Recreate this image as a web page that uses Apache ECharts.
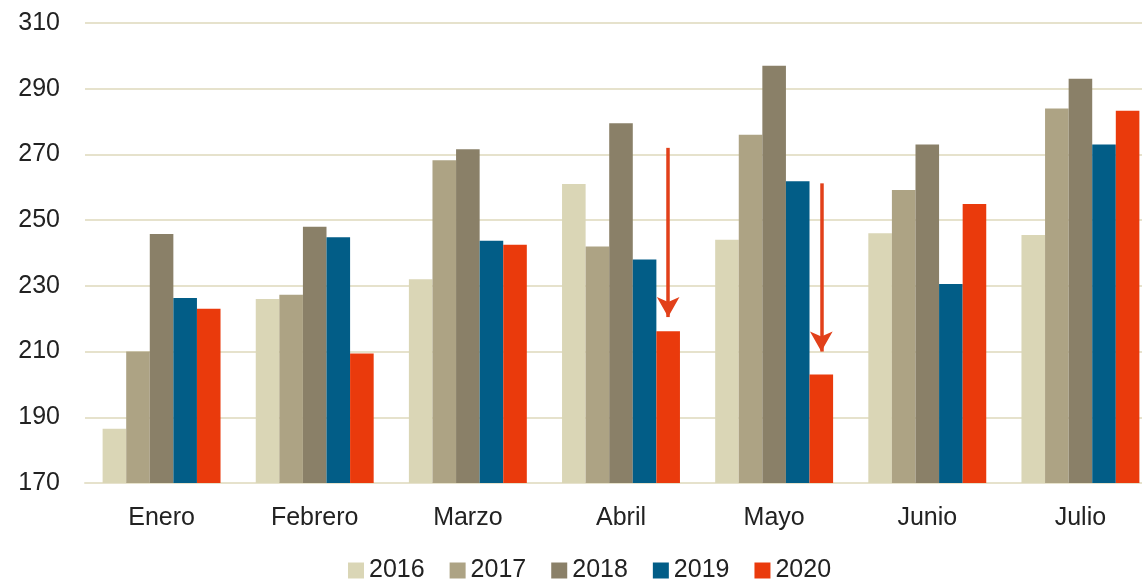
<!DOCTYPE html>
<html><head><meta charset="utf-8">
<script src="https://cdn.jsdelivr.net/npm/echarts@6/dist/echarts.min.js"></script>
<style>html,body{margin:0;padding:0;background:#fff}#c{width:1142px;height:588px}</style>
</head><body><div id="c"></div>
<script>
var categories = ['Enero','Febrero','Marzo','Abril','Mayo','Junio','Julio'];
var seriesNames = ['2016','2017','2018','2019','2020'];
var v2016 = [186.5, 226, 232, 261, 244, 246, 245.5];
var v2017 = [210, 227.3, 268.2, 242, 276, 259.2, 284];
var v2018 = [245.8, 248, 271.6, 279.5, 297, 273, 293];
var v2019 = [226.3, 244.8, 243.7, 238, 261.8, 230.6, 273];
var v2020 = [223, 209.4, 242.5, 216.2, 203, 254.9, 283.3];
var yTicks = [170, 190, 210, 230, 250, 270, 290, 310];
var arrowAbril = ['Abril', 272, 220.5];
var arrowMayo = ['Mayo', 261.2, 210];
var colors = ['#dad6b6','#ada384','#8a8068','#025d87','#ea3a0c'];
var values = [v2016, v2017, v2018, v2019, v2020];

var FONT = 'Liberation Sans, Arial, sans-serif';
var chart = echarts.init(document.getElementById('c'));
var series = seriesNames.map(function(n, i){
  var s = {
    name: n, type: 'bar', data: values[i],
    barGap: '0%', barCategoryGap: '23%',
    itemStyle: {color: colors[i]},
    emphasis: {disabled: true}
  };
  if (i === 4) {
    s.markLine = {
      silent: true,
      symbol: ['none', 'arrow'],
      symbolSize: [17, 20],
      label: {show: false},
      lineStyle: {color: '#e2401a', width: 3.5, type: 'solid'},
      data: [
        [{coord: [arrowAbril[0], arrowAbril[1]]}, {coord: [arrowAbril[0], arrowAbril[2]]}],
        [{coord: [arrowMayo[0], arrowMayo[1]]}, {coord: [arrowMayo[0], arrowMayo[2]]}]
      ]
    };
  }
  return s;
});

chart.setOption({
  animation: false,
  color: colors,
  textStyle: {fontFamily: FONT},
  grid: {left: 85, right: -15, top: 23, bottom: 105, containLabel: false, outerBoundsMode: 'none'},
  legend: {
    bottom: 0, left: 343,
    itemWidth: 16, itemHeight: 16, itemGap: 25,
    icon: 'rect',
    textStyle: {fontSize: 25, color: '#222', fontFamily: FONT},
    data: seriesNames
  },
  xAxis: {
    type: 'category', data: categories,
    axisLine: {show: true, lineStyle: {color: '#e6e2cc', width: 2}},
    axisTick: {show: false},
    axisLabel: {fontSize: 25, color: '#222', margin: 23}
  },
  yAxis: {
    type: 'value', min: yTicks[0], max: yTicks[yTicks.length-1], interval: 20,
    axisLine: {show: false}, axisTick: {show: false},
    axisLabel: {fontSize: 25, color: '#222', margin: 25},
    splitLine: {lineStyle: {color: '#e6e2cc', width: 2}}
  },
  series: series
});
</script></body></html>
